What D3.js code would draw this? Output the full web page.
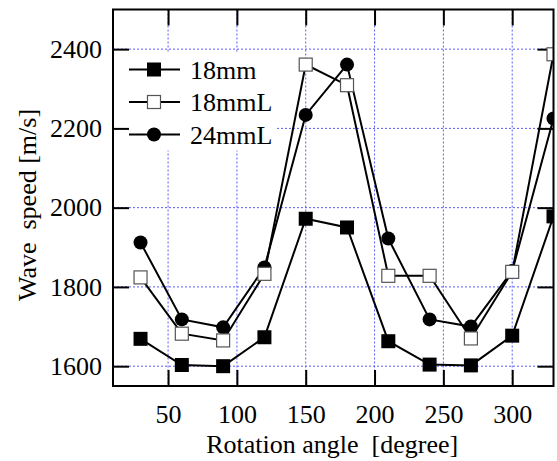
<!DOCTYPE html>
<html>
<head>
<meta charset="utf-8">
<script src="https://cdn.jsdelivr.net/npm/d3@7"></script>
<style>
  body { margin: 0; }
  #chartbox svg text { font-family: "Liberation Serif", "Times New Roman", Times, serif !important; }
</style>
</head>
<body>
<div id="chartbox"></div>
<script>
const angles = [30, 60, 90, 120, 150, 180, 210, 240, 270, 300, 330]
const speed18mm = [1669, 1603, 1600, 1673, 1972, 1950, 1663, 1604, 1602, 1677, 1978]
const speed18mmL = [1824, 1682, 1665, 1833, 2361, 2309, 1828, 1828, 1670, 1838, 2387]
const speed24mmL = [1912, 1718, 1698, 1849, 2234, 2361, 1922, 1718, 1700, 1840, 2225]
const seriesNames = ['18mm', '18mmL', '24mmL']
const xTicks = [50, 100, 150, 200, 250, 300]
const yTicks = [1600, 1800, 2000, 2200, 2400]

const FONT = '"Liberation Serif", "Times New Roman", Times, serif'
const W = 557, H = 461
const margin = {top: 9.5, right: 3.5, bottom: 75, left: 113}
const iw = W - margin.left - margin.right
const ih = H - margin.top - margin.bottom

const svg = d3.select('#chartbox')
  .append('svg')
  .attr('width', W)
  .attr('height', H)
  .attr('font-family', FONT)
  .attr('font-size', 26)

const x = d3.scaleLinear().domain([10, 330]).range([0, iw])
const y = d3.scaleLinear().domain([1550, 2500]).range([ih, 0])

const g = svg.append('g')
  .attr('transform', `translate(${margin.left},${margin.top})`)

// dotted grid
const grid = g.append('g')
  .attr('stroke', '#5a5aff')
  .attr('stroke-width', 1)
  .attr('stroke-dasharray', '2,2')
grid.selectAll('.gx').data(xTicks).enter()
  .append('line')
  .attr('x1', d => x(d)).attr('x2', d => x(d))
  .attr('y1', 0).attr('y2', ih)
grid.selectAll('.gy').data(yTicks).enter()
  .append('line')
  .attr('y1', d => y(d)).attr('y2', d => y(d))
  .attr('x1', 0).attr('x2', iw)

// legend background hides the grid behind it
g.append('rect')
  .attr('x', 0).attr('y', 43)
  .attr('width', 162).attr('height', 98)
  .attr('fill', '#fff')

// axes, ticks pointing inward
const tickLen = 16
const styleAxis = sel => {
  sel.attr('font-family', FONT).attr('font-size', 26)
  sel.select('.domain').remove()
  sel.selectAll('.tick line').attr('stroke', '#000').attr('stroke-width', 2)
  sel.selectAll('.tick text').attr('fill', '#000')
}

g.append('g')
  .attr('transform', `translate(0,${ih})`)
  .call(d3.axisBottom(x).tickValues(xTicks).tickSize(-tickLen).tickPadding(19).tickFormat(d3.format('d')))
  .call(styleAxis)

g.append('g')
  .call(d3.axisTop(x).tickValues(xTicks).tickSize(-tickLen).tickFormat(''))
  .call(styleAxis)

g.append('g')
  .call(d3.axisLeft(y).tickValues(yTicks).tickSize(-tickLen).tickPadding(11).tickFormat(d3.format('d')))
  .call(styleAxis)

g.append('g')
  .attr('transform', `translate(${iw},0)`)
  .call(d3.axisRight(y).tickValues(yTicks).tickSize(-tickLen).tickFormat(''))
  .call(styleAxis)

// series, clipped to the plot area by a nested svg
const series = [
  {name: seriesNames[0], values: speed18mm, shape: 'fsquare'},
  {name: seriesNames[2], values: speed24mmL, shape: 'circle'},
  {name: seriesNames[1], values: speed18mmL, shape: 'osquare'}
]

const drawMarker = (sel, shape) => {
  if (shape === 'circle') {
    sel.append('circle').attr('r', 7).attr('fill', '#000')
  } else if (shape === 'fsquare') {
    sel.append('rect').attr('x', -7).attr('y', -7).attr('width', 14).attr('height', 14).attr('fill', '#000')
  } else {
    sel.append('rect').attr('x', -6.5).attr('y', -6.5).attr('width', 13).attr('height', 13)
      .attr('fill', '#fff').attr('stroke', '#555').attr('stroke-width', 1.2)
  }
}

const line = d3.line().x(d => x(d[0])).y(d => y(d[1]))
const plot = g.append('svg')
  .attr('width', iw).attr('height', ih)
  .style('overflow', 'hidden')

series.forEach(s => {
  const pts = angles.map((a, i) => [a, s.values[i]])
  plot.append('path')
    .datum(pts)
    .attr('d', line)
    .attr('fill', 'none')
    .attr('stroke', '#000')
    .attr('stroke-width', 2)
  plot.selectAll(null)
    .data(pts)
    .enter()
    .append('g')
    .attr('transform', d => `translate(${x(d[0])},${y(d[1])})`)
    .each(function () { drawMarker(d3.select(this), s.shape) })
})

g.append('rect')
  .attr('width', iw).attr('height', ih)
  .attr('fill', 'none')
  .attr('stroke', '#000')
  .attr('stroke-width', 2)

// legend
const legendItems = [
  {name: seriesNames[0], shape: 'fsquare'},
  {name: seriesNames[1], shape: 'osquare'},
  {name: seriesNames[2], shape: 'circle'}
]
const lg = g.selectAll('.legend')
  .data(legendItems)
  .enter()
  .append('g')
  .attr('transform', (d, i) => `translate(16,${60 + i * 32.5})`)
lg.append('line')
  .attr('x1', 0).attr('x2', 51)
  .attr('stroke', '#000').attr('stroke-width', 2)
lg.append('g')
  .attr('transform', 'translate(25,0)')
  .each(function (d) { drawMarker(d3.select(this), d.shape) })
lg.append('text')
  .attr('x', 61)
  .attr('dy', '0.35em')
  .text(d => d.name)

// axis titles
svg.append('text')
  .attr('x', margin.left + x(170) - 1)
  .attr('y', 453)
  .attr('text-anchor', 'middle')
  .attr('xml:space', 'preserve')
  .text('Rotation angle  [degree]')

svg.append('text')
  .attr('transform', 'translate(36,205) rotate(-90)')
  .attr('text-anchor', 'middle')
  .attr('xml:space', 'preserve')
  .text('Wave  speed [m/s]')

svg.selectAll('text').each(function () {
  this.style.setProperty('font-family', FONT, 'important')
})
</script>
</body>
</html>
